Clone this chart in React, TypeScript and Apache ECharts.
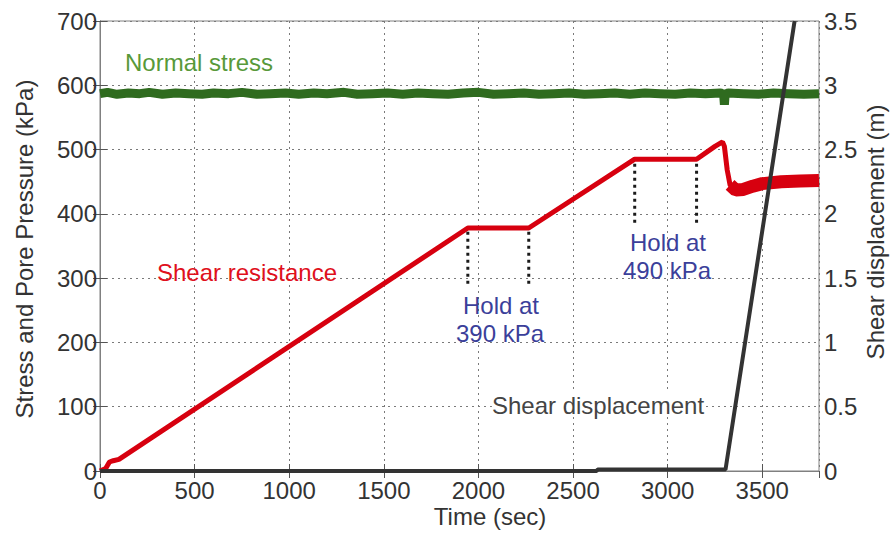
import React, { useEffect, useRef } from "react";
import * as echarts from "echarts";

// ---- data ----
const xTicks = [0, 500, 1000, 1500, 2000, 2500, 3000, 3500];
const leftTicks = [0, 100, 200, 300, 400, 500, 600, 700];
const rightTicks = [0, 0.5, 1, 1.5, 2, 2.5, 3, 3.5];

const timeNormal = [0, 40, 90, 150, 210, 260, 330, 400, 470, 540, 600, 680, 750, 830, 900, 980, 1050, 1130, 1200, 1290, 1360, 1440, 1520, 1600, 1680, 1760, 1840, 1920, 2000, 2080, 2160, 2240, 2320, 2400, 2480, 2560, 2640, 2720, 2800, 2880, 2960, 3040, 3120, 3200, 3280, 3296, 3300, 3304, 3320, 3400, 3480, 3560, 3640, 3720, 3800];
const normalStress = [587, 589, 586, 588, 587, 589, 586, 588, 587, 586, 588, 587, 589, 586, 587, 588, 586, 588, 587, 589, 586, 587, 588, 586, 588, 587, 586, 588, 589, 586, 587, 588, 586, 587, 588, 586, 587, 588, 586, 588, 587, 586, 588, 587, 588, 586, 570, 586, 588, 587, 586, 588, 587, 586, 587];

const timeShear = [0, 30, 50, 70, 100, 1944, 2266, 2826, 3153, 3250, 3290, 3300, 3315, 3330, 3360, 3400, 3450, 3500, 3600, 3700, 3800];
const shearRes = [0, 4, 14, 16, 18, 378, 378, 485, 485, 505, 512, 505, 468, 445, 437, 438, 443, 447, 450, 451, 452];
const bandStart = 3330; // noisy (thick) part of the shear resistance trace

const timeDisp = [0, 2625, 2630, 3306, 3671];
const shearDisp = [0, 0, 0.012, 0.012, 3.5];

const holdTimes = [1944, 2266, 2826, 3153];
const holdTop = [372, 372, 478, 478];
const holdBottom = [285, 285, 385, 385];

const FONT = "'Liberation Sans', Arial, Helvetica, sans-serif";

export default function App() {
  const ref = useRef<HTMLDivElement>(null);
  useEffect(() => {
    if (!ref.current) return;
    const chart = echarts.init(ref.current, null, { renderer: "svg" });

    const pair = (xs: number[], ys: number[]) => xs.map((x, i) => [x, ys[i]]);
    const shearPairs = pair(timeShear, shearRes);
    const bandPairs = shearPairs.filter((p) => p[0] >= bandStart);

    const gridLine = { show: true, lineStyle: { color: "#7a7a7a", type: [2, 4] as any, width: 1 } };
    const tickStyle = { show: true, inside: true, length: 7, lineStyle: { color: "#555", width: 1 } };
    const labelStyle = { color: "#333", fontSize: 24, fontFamily: FONT, formatter: (v: number) => String(v) };

    const holdSeries = holdTimes.map((t, i) => ({
      type: "line",
      xAxisIndex: 0,
      yAxisIndex: 0,
      symbol: "none",
      silent: true,
      z: 4,
      data: [[t, holdTop[i]], [t, holdBottom[i]]],
      lineStyle: { color: "#1a1a1a", width: 3, type: [3, 4] as any },
    }));

    const option: any = {
      animation: false,
      backgroundColor: "#ffffff",
      textStyle: { fontFamily: FONT },
      grid: { left: 100, right: 74, top: 21, bottom: 65, show: true, borderColor: "#808080", borderWidth: 1, backgroundColor: "transparent" },
      xAxis: [
        {
          type: "value",
          min: xTicks[0],
          max: 3800,
          interval: 500,
          position: "bottom",
          axisLine: { show: true, lineStyle: { color: "#555", width: 1 } },
          axisTick: tickStyle,
          axisLabel: { ...labelStyle, margin: 7, showMaxLabel: false },
          splitLine: gridLine,
        },
        {
          type: "value",
          min: xTicks[0],
          max: 3800,
          interval: 500,
          position: "top",
          axisLine: { show: true, lineStyle: { color: "#808080", width: 1 } },
          axisTick: tickStyle,
          axisLabel: { show: false },
          splitLine: { show: false },
        },
      ],
      yAxis: [
        {
          type: "value",
          min: leftTicks[0],
          max: leftTicks[leftTicks.length - 1],
          interval: 100,
          position: "left",
          axisLine: { show: true, lineStyle: { color: "#808080", width: 1 } },
          axisTick: tickStyle,
          axisLabel: { ...labelStyle, margin: 3 },
          splitLine: gridLine,
        },
        {
          type: "value",
          min: rightTicks[0],
          max: rightTicks[rightTicks.length - 1],
          interval: 0.5,
          position: "right",
          axisLine: { show: true, lineStyle: { color: "#808080", width: 1 } },
          axisTick: tickStyle,
          axisLabel: { ...labelStyle, margin: 5 },
          splitLine: { show: false },
        },
      ],
      series: [
        {
          name: "Normal stress",
          type: "line",
          yAxisIndex: 0,
          symbol: "none",
          z: 3,
          data: pair(timeNormal, normalStress),
          lineStyle: { color: "#2f6b1f", width: 9, join: "bevel" },
        },
        {
          name: "Shear resistance",
          type: "line",
          yAxisIndex: 0,
          symbol: "none",
          z: 3,
          data: shearPairs,
          lineStyle: { color: "#d7000f", width: 5 },
        },
        {
          name: "Shear resistance band",
          type: "line",
          yAxisIndex: 0,
          symbol: "none",
          z: 3,
          data: bandPairs,
          lineStyle: { color: "#d7000f", width: 13 },
        },
        ...holdSeries,
        {
          name: "Shear displacement",
          type: "line",
          yAxisIndex: 1,
          symbol: "none",
          z: 5,
          data: pair(timeDisp, shearDisp),
          lineStyle: { color: "#333333", width: 4 },
        },
      ],
      graphic: [
        { type: "text", x: 490, y: 516, z: 10, style: { text: "Time (sec)", fill: "#333", font: `24px ${FONT}`, textAlign: "center", textVerticalAlign: "middle" } },
        { type: "text", x: 24, y: 249, rotation: Math.PI / 2, z: 10, style: { text: "Stress and Pore Pressure (kPa)", fill: "#333", font: `24px ${FONT}`, textAlign: "center", textVerticalAlign: "middle" } },
        { type: "text", x: 875, y: 232, rotation: Math.PI / 2, z: 10, style: { text: "Shear displacement (m)", fill: "#333", font: `24px ${FONT}`, textAlign: "center", textVerticalAlign: "middle" } },
        { type: "text", x: 199, y: 62, z: 10, style: { text: "Normal stress", fill: "#58993a", font: `24px ${FONT}`, textAlign: "center", textVerticalAlign: "middle" } },
        { type: "text", x: 247, y: 272, z: 10, style: { text: "Shear resistance", fill: "#e0101c", font: `24px ${FONT}`, textAlign: "center", textVerticalAlign: "middle" } },
        { type: "text", x: 501, y: 305, z: 10, style: { text: "Hold at", fill: "#3b3f9a", font: `24px ${FONT}`, textAlign: "center", textVerticalAlign: "middle" } },
        { type: "text", x: 500, y: 333, z: 10, style: { text: "390 kPa", fill: "#3b3f9a", font: `24px ${FONT}`, textAlign: "center", textVerticalAlign: "middle" } },
        { type: "text", x: 668, y: 242, z: 10, style: { text: "Hold at", fill: "#3b3f9a", font: `24px ${FONT}`, textAlign: "center", textVerticalAlign: "middle" } },
        { type: "text", x: 667, y: 270, z: 10, style: { text: "490 kPa", fill: "#3b3f9a", font: `24px ${FONT}`, textAlign: "center", textVerticalAlign: "middle" } },
        { type: "text", x: 598, y: 405, z: 10, style: { text: "Shear displacement", fill: "#444", font: `24px ${FONT}`, textAlign: "center", textVerticalAlign: "middle", backgroundColor: "#ffffff" } },
      ],
    };
    chart.setOption(option);
    return () => chart.dispose();
  }, []);

  return (
    <div
      ref={ref}
      style={{ position: "fixed", left: 0, top: 0, width: 893, height: 536, background: "#fff" }}
    />
  );
}
